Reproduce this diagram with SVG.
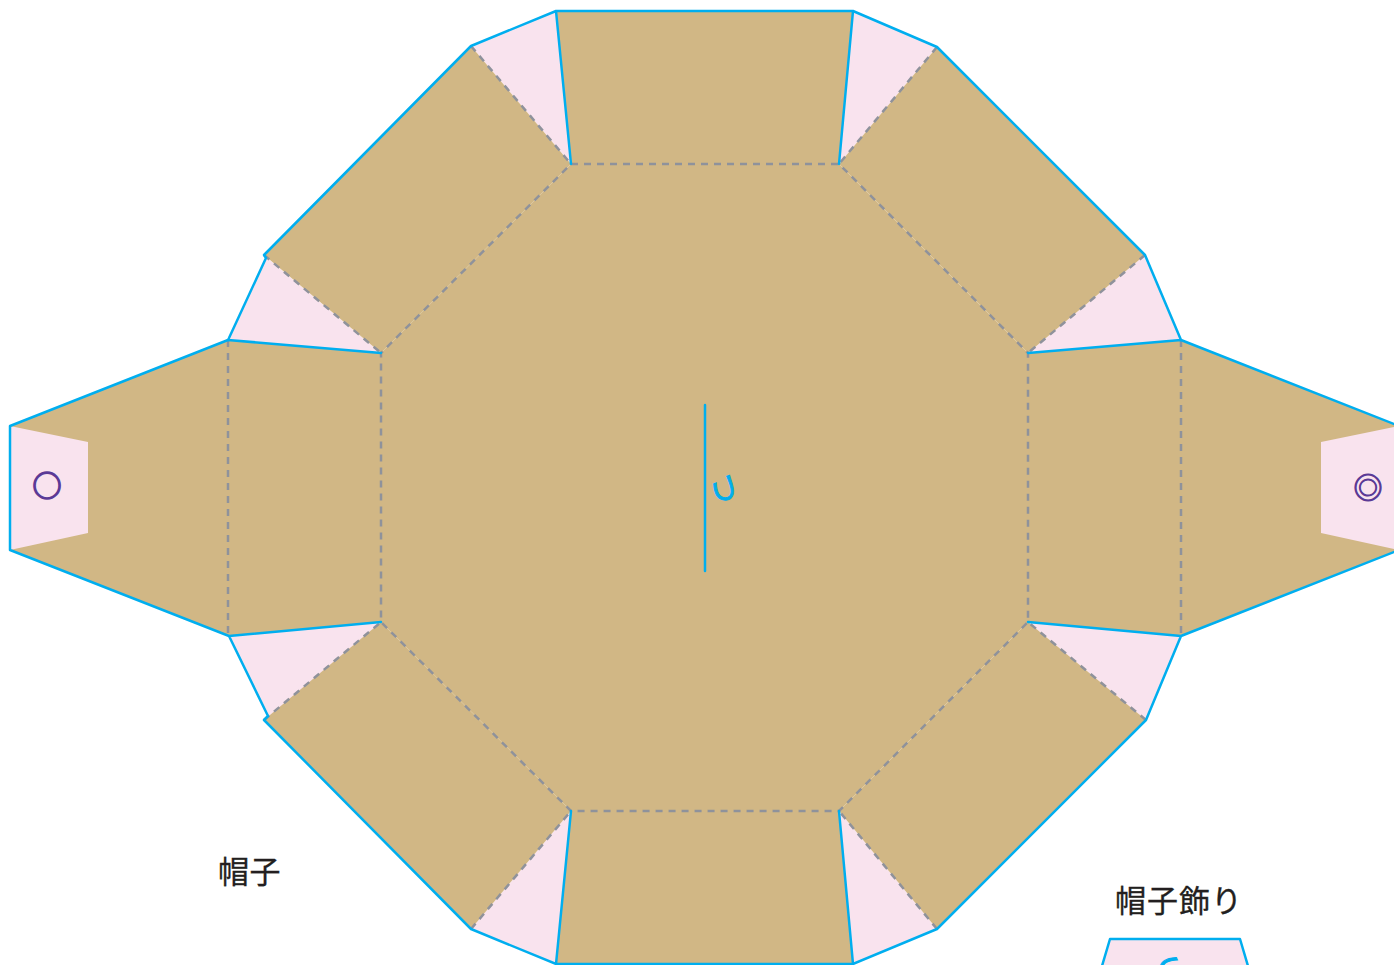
<svg xmlns="http://www.w3.org/2000/svg" width="1394" height="965" viewBox="0 0 1394 965">
<style>
.tan{fill:#d1b785}
.pink{fill:#f9e3ee}
.cut{fill:none;stroke:#00aeef;stroke-width:2.500;stroke-linejoin:round;stroke-linecap:round}
.fold{fill:none;stroke:#8f929b;stroke-width:2.500;stroke-dasharray:7 6}
.lab{font-family:"Noto Sans CJK JP","Noto Sans",sans-serif;font-size:31px;fill:#231f20;stroke:#231f20;stroke-width:.3}
.mark{font-family:"Noto Sans CJK JP","Noto Sans",sans-serif;font-size:29px;fill:#5b3a96;stroke:#5b3a96;stroke-width:1.600;text-anchor:middle}
.ori{font-family:"Noto Sans CJK JP","Noto Sans",sans-serif;font-size:30px;fill:#00aeef;stroke:#00aeef;stroke-width:1;text-anchor:middle}
</style>
<g id="hat">
<g id="tabs">
<polygon class="pink" points="471,46 556,11 571,164"/>
<polygon class="pink" points="937,47 853,11 839,164"/>
<polygon class="pink" points="266,257 229,340 381,353"/>
<polygon class="pink" points="1145,255 1181,340 1028,353"/>
<polygon class="pink" points="268,718 229,636 381,622"/>
<polygon class="pink" points="1146,720 1181,636 1028,622"/>
<polygon class="pink" points="471,929 556,964 571,811"/>
<polygon class="pink" points="937,929 853,964 839,811"/>
</g>
<g id="body">
<polygon class="tan" points="571,164 839,164 1028,353 1028,622 839,811 571,811 381,622 381,353"/>
<polygon class="tan" points="556,11 853,11 839,164 571,164"/>
<polygon class="tan" points="556,964 853,964 839,811 571,811"/>
<polygon class="tan" points="471,46 571,164 381,353 264,255"/>
<polygon class="tan" points="937,47 1145,255 1028,353 839,164"/>
<polygon class="tan" points="264,720 381,622 571,811 471,929"/>
<polygon class="tan" points="1146,720 1028,622 839,811 937,929"/>
<polygon class="tan" points="10,426 228,340 381,353 381,622 228,636 10,550"/>
<polygon class="tan" points="1399,426 1181,340 1028,353 1028,622 1181,636 1399,550"/>
</g>
<g id="flaps">
<polygon class="pink" points="10,426 88,442 88,533 10,550"/>
<polygon class="pink" points="1399,426 1321,442 1321,533 1399,550"/>
</g>
</g>
<g id="connectors">
<path class="fold" d="M571,164H839L1028,353V622L839,811H571L381,622V353Z"/>
<path class="fold" d="M228,340V636M1181,340V636M471,46L571,164M937,47L839,164M264,255L381,353M1145,255L1028,353M264,720L381,622M1146,720L1028,622M471,929L571,811M937,929L839,811"/>
<path class="cut" d="M471,46L556,11H853L937,47L1145,255L1181,340L1399,426M1181,340L1028,353M1028,622L1181,636L1399,550M1181,636L1146,720L937,929L853,964H556L471,929L264,720L268,716L229,636L10,550V426L228,340L229,338L266,258L264,255L471,46M228,340L381,353M381,622L229,636M556,11L571,164M853,11L839,164M556,964L571,811M853,964L839,811M705,405V571"/>
</g>
<g id="marks">
<text class="mark" x="47" y="497">○</text>
<text class="mark" x="1368" y="499" style="stroke-width:1">◎</text>
<text class="ori" transform="translate(724 488) rotate(90)" x="0" y="10">つ</text>
</g>
<g id="label-hat"><text class="lab" x="218" y="883" style="letter-spacing:.5px">帽子</text></g>
<g id="label-deco"><text class="lab" x="1115" y="912" style="letter-spacing:1px">帽子飾り</text></g>
<g id="deco">
<polygon class="pink" points="1110,939 1240,939 1248,966 1102,966"/>
<path class="cut" d="M1102,966L1110,939H1240L1248,966"/>
<text class="ori" transform="translate(1172 968) rotate(180)" x="0" y="10">つ</text>
</g>
</svg>
